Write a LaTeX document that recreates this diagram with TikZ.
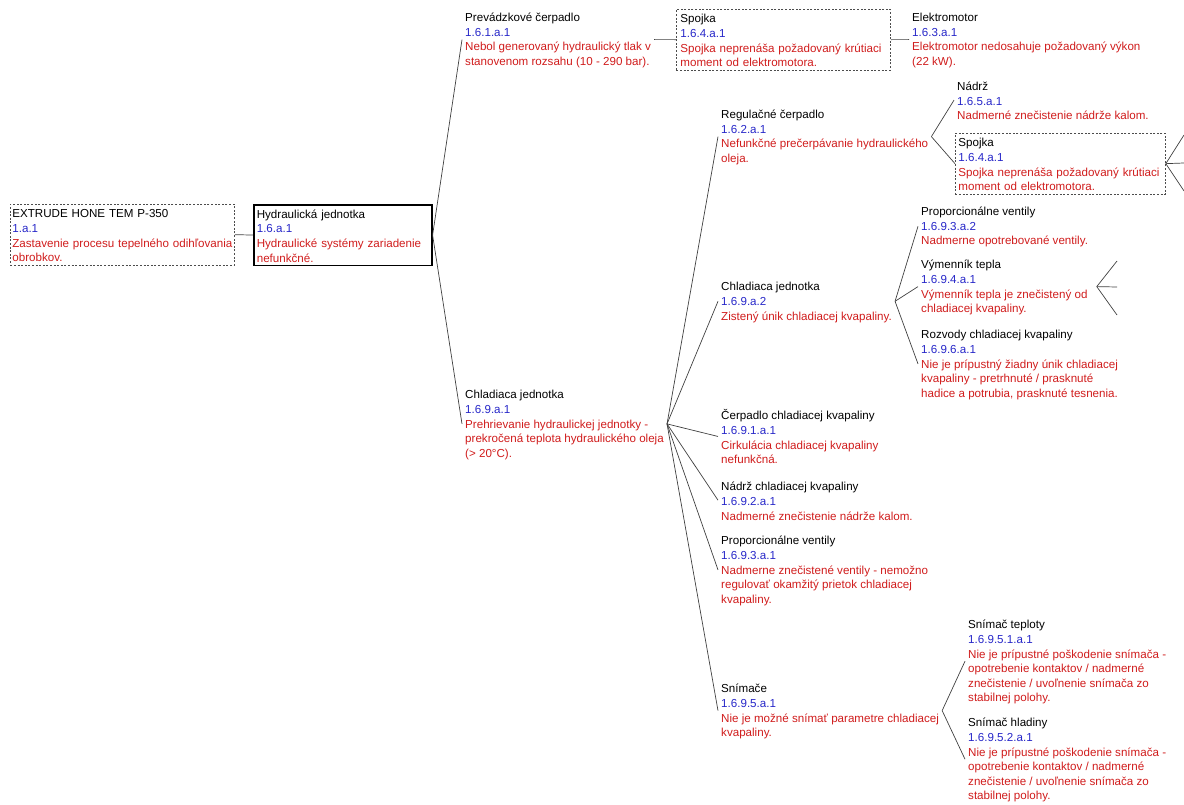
\documentclass[tikz,border=0pt]{standalone}
\usepackage{fontspec}
\setmainfont{Liberation Sans}
\definecolor{codeblue}{HTML}{2626C8}
\definecolor{faultred}{HTML}{D01C1C}
\newcommand{\cd}[1]{\textcolor{codeblue}{#1}}
\newcommand{\fl}[1]{\textcolor{faultred}{\mbox{#1}}}
\newcommand{\hd}{\rule{0pt}{10.6pt}}

\begin{document}
\begin{tikzpicture}[
  x=1pt, y=-1pt,
  item/.style={anchor=north west, align=left, inner sep=3pt,
               font=\fontsize{11.6}{14.6}\selectfont},
  dbox/.style={item, draw=black!70, line width=0.8pt, dash pattern=on 2pt off 1.6pt},
  hbox/.style={item, draw=black, line width=1.6pt},
  link/.style={draw=black!75, line width=0.7pt},
]
\useasboundingbox (0,0) rectangle (1184,805);

\node[dbox, inner xsep=2pt, text width=220pt] (root) at (10, 204) {\hd EXTRUDE HONE TEM P-350\\\cd{1.a.1}\\\fl{Zastavenie procesu tepelného odihľovania}\\\fl{obrobkov.}};
\node[hbox, text width=172pt] (hyd) at (253, 204) {\hd Hydraulická jednotka\\\cd{1.6.a.1}\\\fl{Hydraulické systémy zariadenie}\\\fl{nefunkčné.}};

\node[item] (prev) at (462, 8) {\hd Prevádzkové čerpadlo\\\cd{1.6.1.a.1}\\\fl{Nebol generovaný hydraulický tlak v}\\\fl{stanovenom rozsahu (10 - 290 bar).}};
\node[dbox, inner xsep=4pt, text width=206pt] (spoj1) at (676, 9) {\hd Spojka\\\cd{1.6.4.a.1}\\\fl{Spojka neprenáša požadovaný krútiaci}\\\fl{moment od elektromotora.}};
\node[item] (elek) at (909, 8) {\hd Elektromotor\\\cd{1.6.3.a.1}\\\fl{Elektromotor nedosahuje požadovaný výkon}\\\fl{(22 kW).}};

\node[item] (chlad1) at (462, 385) {\hd Chladiaca jednotka\\\cd{1.6.9.a.1}\\\fl{Prehrievanie hydraulickej jednotky -}\\\fl{prekročená teplota hydraulického oleja}\\\fl{(> 20°C).}};

\node[item] (regul) at (718, 105) {\hd Regulačné čerpadlo\\\cd{1.6.2.a.1}\\\fl{Nefunkčné prečerpávanie hydraulického}\\\fl{oleja.}};
\node[item] (nadrz) at (954, 77) {\hd Nádrž\\\cd{1.6.5.a.1}\\\fl{Nadmerné znečistenie nádrže kalom.}};
\node[dbox, text width=204pt] (spoj2) at (955, 133) {\hd Spojka\\\cd{1.6.4.a.1}\\\fl{Spojka neprenáša požadovaný krútiaci}\\\fl{moment od elektromotora.}};

\node[item] (chlad2) at (718, 277) {\hd Chladiaca jednotka\\\cd{1.6.9.a.2}\\\fl{Zistený únik chladiacej kvapaliny.}};
\node[item] (prop2) at (918, 202) {\hd Proporcionálne ventily\\\cd{1.6.9.3.a.2}\\\fl{Nadmerne opotrebované ventily.}};
\node[item] (vym) at (918, 255) {\hd Výmenník tepla\\\cd{1.6.9.4.a.1}\\\fl{Výmenník tepla je znečistený od}\\\fl{chladiacej kvapaliny.}};
\node[item] (rozv) at (918, 325) {\hd Rozvody chladiacej kvapaliny\\\cd{1.6.9.6.a.1}\\\fl{Nie je prípustný žiadny únik chladiacej}\\\fl{kvapaliny - pretrhnuté / prasknuté}\\\fl{hadice a potrubia, prasknuté tesnenia.}};

\node[item] (cerp) at (718, 406) {\hd Čerpadlo chladiacej kvapaliny\\\cd{1.6.9.1.a.1}\\\fl{Cirkulácia chladiacej kvapaliny}\\\fl{nefunkčná.}};
\node[item] (nadrzchl) at (718, 477) {\hd Nádrž chladiacej kvapaliny\\\cd{1.6.9.2.a.1}\\\fl{Nadmerné znečistenie nádrže kalom.}};
\node[item] (prop1) at (718, 531) {\hd Proporcionálne ventily\\\cd{1.6.9.3.a.1}\\\fl{Nadmerne znečistené ventily - nemožno}\\\fl{regulovať okamžitý prietok chladiacej}\\\fl{kvapaliny.}};
\node[item] (snim) at (718, 679) {\hd Snímače\\\cd{1.6.9.5.a.1}\\\fl{Nie je možné snímať parametre chladiacej}\\\fl{kvapaliny.}};
\node[item] (snimt) at (965, 615) {\hd Snímač teploty\\\cd{1.6.9.5.1.a.1}\\\fl{Nie je prípustné poškodenie snímača -}\\\fl{opotrebenie kontaktov / nadmerné}\\\fl{znečistenie / uvoľnenie snímača zo}\\\fl{stabilnej polohy.}};
\node[item] (snimh) at (965, 713) {\hd Snímač hladiny\\\cd{1.6.9.5.2.a.1}\\\fl{Nie je prípustné poškodenie snímača -}\\\fl{opotrebenie kontaktov / nadmerné}\\\fl{znečistenie / uvoľnenie snímača zo}\\\fl{stabilnej polohy.}};

\coordinate (spoj2a) at (1184, 135);
\coordinate (spoj2b) at (1184, 163);
\coordinate (spoj2c) at (1184, 191);
\coordinate (vyma) at (1117, 261);
\coordinate (vymb) at (1117, 287);
\coordinate (vymc) at (1117, 315);

\draw[link] (root.east) -- (hyd.west);
\draw[link] (hyd.east) -- (prev.west);
\draw[link] (hyd.east) -- (chlad1.west);
\draw[link] (prev.east) -- (spoj1.west);
\draw[link] (spoj1.east) -- (elek.west);
\draw[link] (chlad1.east) -- (regul.west);
\draw[link] (chlad1.east) -- (chlad2.west);
\draw[link] (chlad1.east) -- (cerp.west);
\draw[link] (chlad1.east) -- (nadrzchl.west);
\draw[link] (chlad1.east) -- (prop1.west);
\draw[link] (chlad1.east) -- (snim.west);
\draw[link] (regul.east) -- (nadrz.west);
\draw[link] (regul.east) -- (spoj2.west);
\draw[link] (spoj2.east) -- (spoj2a);
\draw[link] (spoj2.east) -- (spoj2b);
\draw[link] (spoj2.east) -- (spoj2c);
\draw[link] (chlad2.east) -- (prop2.west);
\draw[link] (chlad2.east) -- (vym.west);
\draw[link] (chlad2.east) -- (rozv.west);
\draw[link] ([xshift=6pt]vym.east) -- (vyma);
\draw[link] ([xshift=6pt]vym.east) -- (vymb);
\draw[link] ([xshift=6pt]vym.east) -- (vymc);
\draw[link] (snim.east) -- (snimt.west);
\draw[link] (snim.east) -- (snimh.west);

\end{tikzpicture}
\end{document}
